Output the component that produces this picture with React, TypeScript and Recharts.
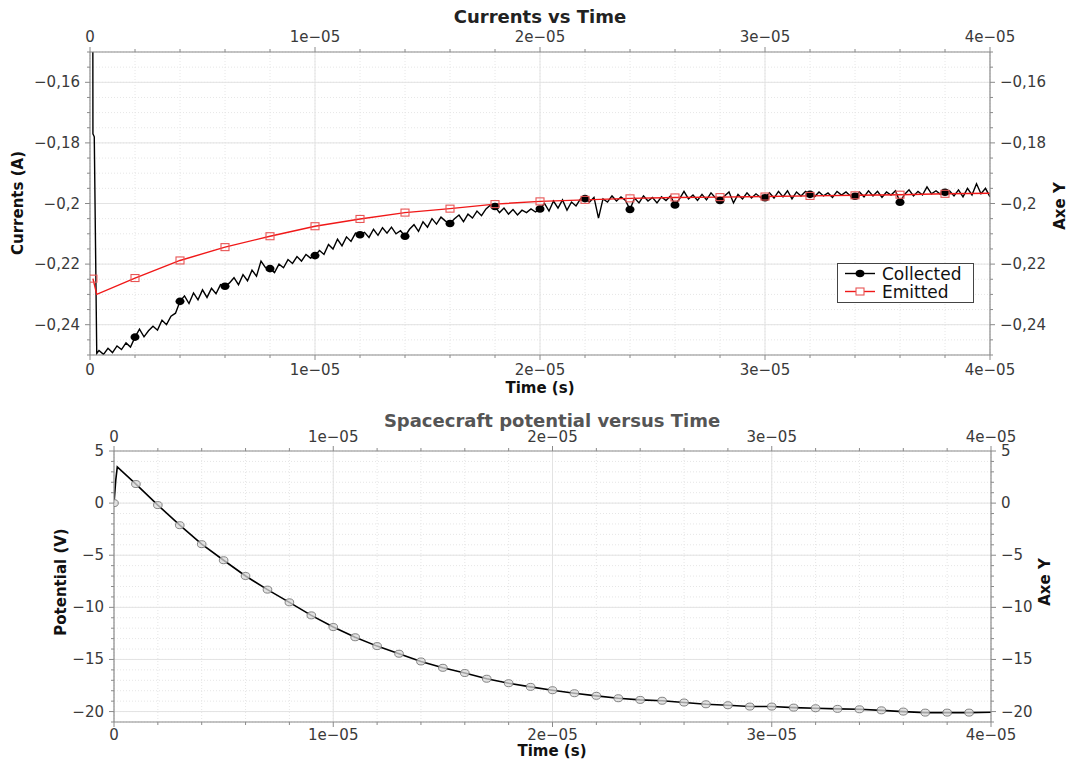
import React from 'react';
import { ComposedChart, Line, XAxis, YAxis, CartesianGrid, ReferenceLine } from 'recharts';

// ---------------- Data ----------------
// time axis ticks (seconds)
const xMajorTicks = [0, 1e-5, 2e-5, 3e-5, 4e-5];
const xMajorLabels = ['0', '1e\u221205', '2e\u221205', '3e\u221205', '4e\u221205'];
const xMinorTicks = [2e-6, 4e-6, 6e-6, 8e-6, 1.2e-5, 1.4e-5, 1.6e-5, 1.8e-5, 2.2e-5, 2.4e-5, 2.6e-5, 2.8e-5, 3.2e-5, 3.4e-5, 3.6e-5, 3.8e-5];

// currents axis ticks
const curMajorTicks = [-0.24, -0.22, -0.2, -0.18, -0.16];
const curMajorLabels = ['\u22120,24', '\u22120,22', '\u22120,2', '\u22120,18', '\u22120,16'];
const curMinorTicks = [-0.25, -0.245, -0.235, -0.23, -0.225, -0.215, -0.21, -0.205, -0.195, -0.19, -0.185, -0.175, -0.17, -0.165, -0.155, -0.15];

// potential axis ticks
const potMajorTicks = [-20, -15, -10, -5, 0, 5];
const potMajorLabels = ['\u221220', '\u221215', '\u221210', '\u22125', '0', '5'];
const potMinorTicks = [-21, -19, -18, -17, -16, -14, -13, -12, -11, -9, -8, -7, -6, -4, -3, -2, -1, 1, 2, 3, 4];

// Collected current (A): initial transient, then samples every 0.2 µs from 0.4 µs to 40 µs
const collectedStartUs = [0.12, 0.13, 0.19, 0.3];
const collectedStartValues = [-0.1, -0.177, -0.178, -0.2495];
const collectedFirstUs = 0.4;
const collectedStepUs = 0.2;
const collectedValues = [
  -0.2485, -0.2498, -0.2478, -0.2492, -0.2470, -0.2482, -0.2460, -0.2474, -0.2441,
  -0.2415, -0.2440, -0.2420, -0.2405, -0.2418, -0.2385, -0.2400, -0.2372, -0.2362, -0.2323,
  -0.2305, -0.2330, -0.2295, -0.2318, -0.2285, -0.2310, -0.2280, -0.2298, -0.2268, -0.2273,
  -0.2262, -0.2245, -0.2268, -0.2235, -0.2255, -0.2220, -0.2240, -0.2190, -0.2212, -0.2215,
  -0.2228, -0.2200, -0.2212, -0.2185, -0.2198, -0.2175, -0.2190, -0.2168, -0.2180, -0.2172,
  -0.2155, -0.2168, -0.2135, -0.2150, -0.2118, -0.2140, -0.2110, -0.2125, -0.2098, -0.2103,
  -0.2095, -0.2112, -0.2085, -0.2105, -0.2080, -0.2098, -0.2078, -0.2100, -0.2090, -0.2108,
  -0.2085, -0.2070, -0.2092, -0.2060, -0.2078, -0.2050, -0.2068, -0.2045, -0.2058, -0.2066,
  -0.2050, -0.2038, -0.2060, -0.2035, -0.2048, -0.2025, -0.2040, -0.2018, -0.2005, -0.2010,
  -0.2030, -0.2015, -0.2035, -0.2020, -0.2038, -0.2022, -0.2030, -0.2018, -0.2028, -0.2018,
  -0.2000, -0.2025, -0.1992, -0.2015, -0.1988, -0.2022, -0.1995, -0.2008, -0.1985, -0.1984,
  -0.1995, -0.1980, -0.2048, -0.1985, -0.1995, -0.1975, -0.1992, -0.1978, -0.1990, -0.2020,
  -0.1982, -0.1998, -0.1975, -0.1992, -0.1980, -0.1998, -0.1978, -0.1990, -0.1975, -0.2005,
  -0.1985, -0.1960, -0.1985, -0.1972, -0.1990, -0.1970, -0.1988, -0.1965, -0.1982, -0.1990,
  -0.1975, -0.1962, -0.1998, -0.1970, -0.1985, -0.1965, -0.1982, -0.1968, -0.1980, -0.1981,
  -0.1965, -0.1982, -0.1960, -0.1978, -0.1958, -0.1985, -0.1962, -0.1975, -0.1960, -0.1970,
  -0.1978, -0.1962, -0.1975, -0.1965, -0.1980, -0.1960, -0.1972, -0.1962, -0.1975, -0.1976,
  -0.1962, -0.1978, -0.1958, -0.1975, -0.1960, -0.1980, -0.1962, -0.1972, -0.1958, -0.1996,
  -0.1970, -0.1955, -0.1975, -0.1960, -0.1972, -0.1945, -0.1968, -0.1958, -0.1970, -0.1963,
  -0.1958, -0.1975, -0.1955, -0.1978, -0.1950, -0.1972, -0.1935, -0.1968, -0.1950, -0.1978,
];
const collectedMarkerUs = [2, 4, 6, 8, 10, 12, 14, 16, 18, 20, 22, 24, 26, 28, 30, 32, 34, 36, 38];

// Emitted current (A)
const emittedUs = [0.13, 0.3, 2, 4, 6, 8, 10, 12, 14, 16, 18, 20, 22, 24, 26, 28, 30, 32, 34, 36, 38, 40];
const emittedValues = [
  -0.2248, -0.2300, -0.2246, -0.2188, -0.2144, -0.2108, -0.2075, -0.2051, -0.2030, -0.2017, -0.2002,
  -0.1993, -0.1988, -0.1983, -0.1980, -0.1979, -0.1977, -0.1975, -0.1973, -0.1971, -0.1968, -0.1966,
];
const emittedMarkerUs = [0.13, 2, 4, 6, 8, 10, 12, 14, 16, 18, 20, 22, 24, 26, 28, 30, 32, 34, 36, 38];

// Spacecraft potential (V)
const potentialUs = [0, 0.08, 0.15, 1, 2, 3, 4, 5, 6, 7, 8, 9, 10, 11, 12, 13, 14, 15, 16, 17, 18, 19, 20, 21, 22, 23, 24, 25, 26, 27, 28, 29, 30, 31, 32, 33, 34, 35, 36, 37, 38, 39, 40];
const potentialValues = [
  0, 2.2, 3.48, 1.83, -0.19, -2.12, -3.94, -5.48, -6.99, -8.3, -9.52, -10.77, -11.89, -12.87, -13.72,
  -14.45, -15.19, -15.8, -16.3, -16.85, -17.28, -17.63, -17.95, -18.24, -18.49, -18.72, -18.88, -18.96,
  -19.13, -19.3, -19.39, -19.52, -19.52, -19.62, -19.68, -19.74, -19.78, -19.88, -20.0, -20.1, -20.1, -20.1, -20.07,
];
const potentialMarkerUs = [0, 1, 2, 3, 4, 5, 6, 7, 8, 9, 10, 11, 12, 13, 14, 15, 16, 17, 18, 19, 20, 21, 22, 23, 24, 25, 26, 27, 28, 29, 30, 31, 32, 33, 34, 35, 36, 37, 38, 39];

// ---------------- Build series ----------------
type Pt = { t: number; v: number; mark: boolean };
const isIn = (list: number[], u: number) => list.some((m) => Math.abs(m - u) < 1e-6);
const build = (us: number[], vals: number[], marks: number[]): Pt[] =>
  us.map((u, i) => ({ t: u * 1e-6, v: vals[i], mark: isIn(marks, u) }));

const collectedUs = [
  ...collectedStartUs,
  ...collectedValues.map((_, i) => Math.round((collectedFirstUs + i * collectedStepUs) * 1000) / 1000),
];
const collectedData = build(collectedUs, [...collectedStartValues, ...collectedValues], collectedMarkerUs);
const emittedData = build(emittedUs, emittedValues, emittedMarkerUs);
const potentialData = build(potentialUs, potentialValues, potentialMarkerUs);

// ---------------- Styling helpers ----------------
const FONT = '"DejaVu Sans", "Noto Sans", sans-serif';
const AXIS = '#8a8a8a';
const TICKTXT = '#3a3a3a';
const GRID_MAJOR = '#e3e3e3';
const GRID_MINOR = '#e6e6e6';

const sortAll = (a: number[], b: number[]) => [...a, ...b].sort((p, q) => p - q);

function makeTick(side: string, majors: number[], labels: string[], gap: number) {
  return function Tick(props: any) {
    const { x, y, payload } = props;
    const v = payload.value;
    const mi = majors.findIndex((m) => Math.abs(m - v) <= Math.abs(m) * 1e-6 + 1e-15);
    const major = mi >= 0;
    const len = major ? 5 : 3;
    const label = major ? labels[mi] : null;
    const txt = { fontFamily: FONT, fontSize: 15, fill: TICKTXT } as any;
    if (side === 'bottom') {
      return (
        <g>
          <line x1={x} y1={y} x2={x} y2={y + len} stroke={AXIS} />
          {label && (<text x={x} y={y + gap} textAnchor="middle" dominantBaseline="central" style={txt}>{label}</text>)}
        </g>
      );
    }
    if (side === 'top') {
      return (
        <g>
          <line x1={x} y1={y} x2={x} y2={y - len} stroke={AXIS} />
          {label && (<text x={x} y={y - gap} textAnchor="middle" dominantBaseline="central" style={txt}>{label}</text>)}
        </g>
      );
    }
    if (side === 'left') {
      return (
        <g>
          <line x1={x} y1={y} x2={x - len} y2={y} stroke={AXIS} />
          {label && (<text x={x - gap} y={y} textAnchor="end" dominantBaseline="central" style={txt}>{label}</text>)}
        </g>
      );
    }
    return (
      <g>
        <line x1={x} y1={y} x2={x + len} y2={y} stroke={AXIS} />
        {label && (<text x={x + gap} y={y} textAnchor="start" dominantBaseline="central" style={txt}>{label}</text>)}
      </g>
    );
  };
}

const CollectedDot = (p: any) =>
  p.payload && p.payload.mark ? (
    <ellipse key={`c${p.index}`} cx={p.cx} cy={p.cy} rx={4.5} ry={3.8} fill="#000" />
  ) : (
    <g key={`c${p.index}`} />
  );
const EmittedDot = (p: any) =>
  p.payload && p.payload.mark ? (
    <rect key={`e${p.index}`} x={p.cx - 4} y={p.cy - 3.5} width={8} height={7} fill="none" stroke="#e85555" strokeWidth={1.1} />
  ) : (
    <g key={`e${p.index}`} />
  );
const PotentialDot = (p: any) =>
  p.payload && p.payload.mark ? (
    <ellipse key={`p${p.index}`} cx={p.cx} cy={p.cy} rx={4.3} ry={3.5} fill="#d9d9d9" fillOpacity={0.75} stroke="#777" strokeWidth={0.9} />
  ) : (
    <g key={`p${p.index}`} />
  );

const xTicksAll = sortAll(xMajorTicks, xMinorTicks);
const curTicksAll = sortAll(curMajorTicks, curMinorTicks);
const potTicksAll = sortAll(potMajorTicks, potMinorTicks);

const commonAxis = {
  type: 'number' as const,
  allowDataOverflow: true,
  tickLine: false,
  tickSize: 0,
  tickMargin: 0,
  interval: 0 as const,
  axisLine: { stroke: AXIS, strokeWidth: 1.2 },
};

function CurrentsChart() {
  return (
    <ComposedChart width={1069} height={400} margin={{ top: 22, right: 19, bottom: 15, left: 30 }}>
      <CartesianGrid xAxisId="b" yAxisId="l" stroke={GRID_MINOR} strokeDasharray="1 2" />
      {[1e-5, 2e-5, 3e-5].map((v) => (
        <ReferenceLine key={`gx${v}`} xAxisId="b" yAxisId="l" x={v} stroke={GRID_MAJOR} />
      ))}
      {curMajorTicks.map((v) => (
        <ReferenceLine key={`gy${v}`} xAxisId="b" yAxisId="l" y={v} stroke={GRID_MAJOR} />
      ))}
      <XAxis {...commonAxis} xAxisId="b" orientation="bottom" dataKey="t" domain={[0, 4e-5]} ticks={xTicksAll} height={30}
        tick={makeTick('bottom', xMajorTicks, xMajorLabels, 15)} />
      <XAxis {...commonAxis} xAxisId="t" orientation="top" dataKey="t" domain={[0, 4e-5]} ticks={xTicksAll} height={30}
        tick={makeTick('top', xMajorTicks, xMajorLabels, 15)} />
      <YAxis {...commonAxis} yAxisId="l" orientation="left" domain={[-0.25, -0.15]} ticks={curTicksAll} width={60}
        tick={makeTick('left', curMajorTicks, curMajorLabels, 10)} />
      <YAxis {...commonAxis} yAxisId="r" orientation="right" domain={[-0.25, -0.15]} ticks={curTicksAll} width={60}
        tick={makeTick('right', curMajorTicks, curMajorLabels, 10)} />
      <Line xAxisId="b" yAxisId="l" data={collectedData} dataKey="v" type="linear" stroke="#000" strokeWidth={1.4}
        dot={CollectedDot} activeDot={false} isAnimationActive={false} />
      <Line xAxisId="b" yAxisId="l" data={emittedData} dataKey="v" type="linear" stroke="#f01818" strokeWidth={1.4}
        dot={EmittedDot} activeDot={false} isAnimationActive={false} />
    </ComposedChart>
  );
}

function PotentialChart() {
  return (
    <ComposedChart width={1069} height={362} margin={{ top: 21, right: 18, bottom: 10, left: 54 }}>
      <CartesianGrid xAxisId="b" yAxisId="l" stroke={GRID_MINOR} strokeDasharray="1 2" />
      {[1e-5, 2e-5, 3e-5].map((v) => (
        <ReferenceLine key={`gx${v}`} xAxisId="b" yAxisId="l" x={v} stroke={GRID_MAJOR} />
      ))}
      {[-20, -15, -10, -5, 0].map((v) => (
        <ReferenceLine key={`gy${v}`} xAxisId="b" yAxisId="l" y={v} stroke={GRID_MAJOR} />
      ))}
      <XAxis {...commonAxis} xAxisId="b" orientation="bottom" dataKey="t" domain={[0, 4e-5]} ticks={xTicksAll} height={30}
        tick={makeTick('bottom', xMajorTicks, xMajorLabels, 13)} />
      <XAxis {...commonAxis} xAxisId="t" orientation="top" dataKey="t" domain={[0, 4e-5]} ticks={xTicksAll} height={30}
        tick={makeTick('top', xMajorTicks, xMajorLabels, 14)} />
      <YAxis {...commonAxis} yAxisId="l" orientation="left" domain={[-21, 5]} ticks={potTicksAll} width={60}
        tick={makeTick('left', potMajorTicks, potMajorLabels, 10)} />
      <YAxis {...commonAxis} yAxisId="r" orientation="right" domain={[-21, 5]} ticks={potTicksAll} width={60}
        tick={makeTick('right', potMajorTicks, potMajorLabels, 10)} />
      <Line xAxisId="b" yAxisId="l" data={potentialData} dataKey="v" type="linear" stroke="#000" strokeWidth={1.6}
        dot={PotentialDot} activeDot={false} isAnimationActive={false} />
    </ComposedChart>
  );
}

export default function App() {
  const bold = { fontFamily: FONT, fontWeight: 700 } as any;
  return (
    <div style={{ position: 'absolute', left: 0, top: 0, width: 1069, height: 762, background: '#fff', overflow: 'hidden' }}>
      <div style={{ position: 'absolute', left: 0, top: 0 }}>
        <CurrentsChart />
      </div>
      <div style={{ position: 'absolute', left: 0, top: 400 }}>
        <PotentialChart />
      </div>
      <svg width={1069} height={762} style={{ position: 'absolute', left: 0, top: 0, pointerEvents: 'none' }}>
        <text x={540} y={16} textAnchor="middle" dominantBaseline="central" style={{ ...bold, fontSize: 18, fill: '#222' }}>Currents vs Time</text>
        <text x={540} y={388} textAnchor="middle" dominantBaseline="central" style={{ ...bold, fontSize: 15, fill: '#111' }}>Time (s)</text>
        <text transform="translate(18,203) rotate(-90)" textAnchor="middle" dominantBaseline="central" style={{ ...bold, fontSize: 15, fill: '#111' }}>Currents (A)</text>
        <text transform="translate(1060,206) rotate(-90)" textAnchor="middle" dominantBaseline="central" style={{ ...bold, fontSize: 15, fill: '#111' }}>Axe Y</text>

        <text x={552} y={420} textAnchor="middle" dominantBaseline="central" style={{ ...bold, fontSize: 18, fill: '#555' }}>Spacecraft potential versus Time</text>
        <text x={552} y={751} textAnchor="middle" dominantBaseline="central" style={{ ...bold, fontSize: 15, fill: '#111' }}>Time (s)</text>
        <text transform="translate(61,582) rotate(-90)" textAnchor="middle" dominantBaseline="central" style={{ ...bold, fontSize: 15, fill: '#111' }}>Potential (V)</text>
        <text transform="translate(1045,582) rotate(-90)" textAnchor="middle" dominantBaseline="central" style={{ ...bold, fontSize: 15, fill: '#111' }}>Axe Y</text>

        <g>
          <rect x={837.5} y={263.5} width={136} height={39} fill="#fff" stroke="#444" strokeWidth={1} />
          <line x1={845} y1={273.5} x2={875} y2={273.5} stroke="#000" strokeWidth={1.4} />
          <ellipse cx={860} cy={273.5} rx={4.5} ry={3.8} fill="#000" />
          <text x={882} y={273.5} dominantBaseline="central" style={{ fontFamily: FONT, fontSize: 17, fill: '#111' }}>Collected</text>
          <line x1={845} y1={291.5} x2={875} y2={291.5} stroke="#f01818" strokeWidth={1.4} />
          <rect x={856} y={288} width={8} height={7} fill="#fff" stroke="#e85555" strokeWidth={1.1} />
          <text x={882} y={291.5} dominantBaseline="central" style={{ fontFamily: FONT, fontSize: 17, fill: '#111' }}>Emitted</text>
        </g>
      </svg>
    </div>
  );
}
